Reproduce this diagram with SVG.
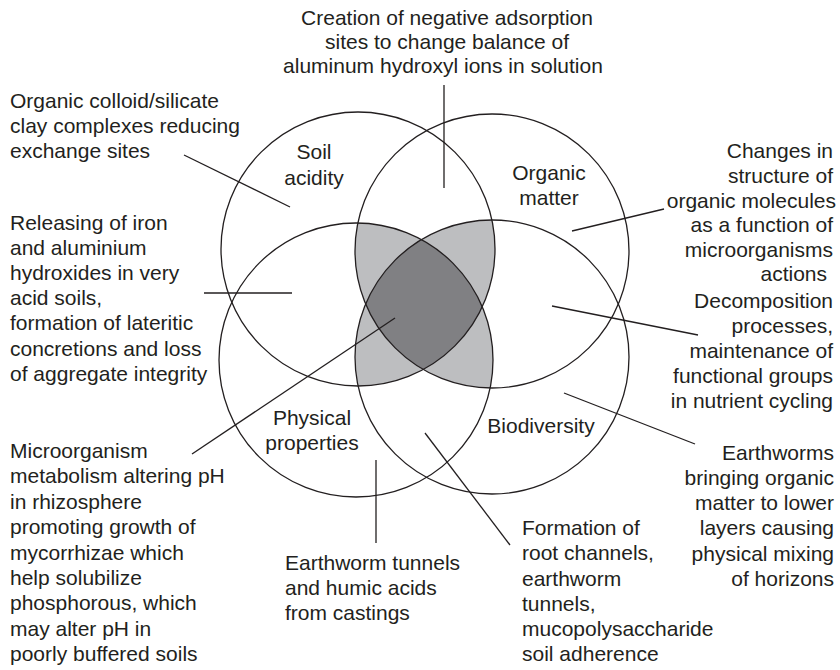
<svg xmlns="http://www.w3.org/2000/svg" xmlns:xlink="http://www.w3.org/1999/xlink" width="840" height="670" viewBox="0 0 840 670">
  <style>
    text { font-family: "Liberation Sans", Arial, Helvetica, sans-serif; font-size: 21px; fill: #231f20; }
    .mid { text-anchor: middle; }
    .end { text-anchor: end; }
    .ring { fill: none; stroke: #231f20; stroke-width: 1.3; }
    .lead { stroke: #231f20; stroke-width: 1.3; fill: none; }
    .tri { fill: #bdbec0; }
    .quad { fill: #808083; }
  </style>
  <defs>
    <circle id="cirS" cx="358" cy="249" r="137"/>
    <circle id="cirO" cx="492" cy="251" r="137"/>
    <circle id="cirP" cx="356" cy="360" r="137"/>
    <circle id="cirB" cx="492" cy="357" r="137"/>
    <clipPath id="clipS"><use xlink:href="#cirS"/></clipPath>
    <clipPath id="clipO"><use xlink:href="#cirO"/></clipPath>
    <clipPath id="clipP"><use xlink:href="#cirP"/></clipPath>
    <clipPath id="clipB"><use xlink:href="#cirB"/></clipPath>
  </defs>

  <rect width="840" height="670" fill="#ffffff"/>

  <!-- overlaps: areas inside three circles (light) and all four (dark) -->
  <g id="overlaps">
    <g clip-path="url(#clipS)"><g clip-path="url(#clipO)"><use xlink:href="#cirP" class="tri"/></g></g>
    <g clip-path="url(#clipS)"><g clip-path="url(#clipO)"><use xlink:href="#cirB" class="tri"/></g></g>
    <g clip-path="url(#clipS)"><g clip-path="url(#clipP)"><use xlink:href="#cirB" class="tri"/></g></g>
    <g clip-path="url(#clipO)"><g clip-path="url(#clipP)"><use xlink:href="#cirB" class="tri"/></g></g>
    <g clip-path="url(#clipS)"><g clip-path="url(#clipO)"><g clip-path="url(#clipP)"><use xlink:href="#cirB" class="quad"/></g></g></g>
  </g>

  <!-- the four property circles -->
  <g id="soil-acidity">
    <use xlink:href="#cirS" class="ring"/>
    <text class="mid" x="314" y="159">Soil</text>
    <text class="mid" x="314" y="185">acidity</text>
  </g>
  <g id="organic-matter">
    <use xlink:href="#cirO" class="ring"/>
    <text class="mid" x="549" y="180">Organic</text>
    <text class="mid" x="549" y="205">matter</text>
  </g>
  <g id="physical-properties">
    <use xlink:href="#cirP" class="ring"/>
    <text class="mid" x="312" y="425">Physical</text>
    <text class="mid" x="312" y="450">properties</text>
  </g>
  <g id="biodiversity">
    <use xlink:href="#cirB" class="ring"/>
    <text class="mid" x="541" y="433">Biodiversity</text>
  </g>

  <!-- leader lines -->
  <g id="connectors">
    <line class="lead" x1="444" y1="85" x2="444" y2="188"/>
    <line class="lead" x1="184" y1="155" x2="290" y2="207"/>
    <line class="lead" x1="572" y1="231" x2="664" y2="209"/>
    <line class="lead" x1="204" y1="293" x2="292" y2="293"/>
    <line class="lead" x1="395" y1="318" x2="192" y2="454"/>
    <line class="lead" x1="552" y1="306" x2="698" y2="335"/>
    <line class="lead" x1="564" y1="393" x2="695" y2="444"/>
    <line class="lead" x1="376" y1="460" x2="376" y2="543"/>
    <line class="lead" x1="425" y1="433" x2="510" y2="545"/>
  </g>

  <!-- annotations -->
  <g id="note-adsorption">
    <text class="mid" x="447" y="25">Creation of negative adsorption</text>
    <text class="mid" x="447" y="49">sites to change balance of</text>
    <text class="mid" x="443" y="73">aluminum hydroxyl ions in solution</text>
  </g>
  <g id="note-colloid">
    <text x="10" y="108">Organic colloid/silicate</text>
    <text x="10" y="133">clay complexes reducing</text>
    <text x="10" y="158">exchange sites</text>
  </g>
  <g id="note-molecules">
    <text class="end" x="833" y="158">Changes in</text>
    <text class="end" x="833" y="183">structure of</text>
    <text class="end" x="836" y="208">organic molecules</text>
    <text class="end" x="833" y="232">as a function of</text>
    <text class="end" x="833" y="257">microorganisms</text>
    <text class="end" x="827" y="281">actions</text>
  </g>
  <g id="note-hydroxides">
    <text x="10" y="230">Releasing of iron</text>
    <text x="10" y="255">and aluminium</text>
    <text x="10" y="280">hydroxides in very</text>
    <text x="10" y="305">acid soils,</text>
    <text x="10" y="330">formation of lateritic</text>
    <text x="10" y="356">concretions and loss</text>
    <text x="10" y="381">of aggregate integrity</text>
  </g>
  <g id="note-decomposition">
    <text class="end" x="833" y="308">Decomposition</text>
    <text class="end" x="833" y="333">processes,</text>
    <text class="end" x="833" y="358">maintenance of</text>
    <text class="end" x="833" y="383">functional groups</text>
    <text class="end" x="833" y="408">in nutrient cycling</text>
  </g>
  <g id="note-microorganism">
    <text x="10" y="458">Microorganism</text>
    <text x="10" y="483">metabolism altering pH</text>
    <text x="10" y="509">in rhizosphere</text>
    <text x="10" y="534">promoting growth of</text>
    <text x="10" y="560">mycorrhizae which</text>
    <text x="10" y="585">help solubilize</text>
    <text x="10" y="610">phosphorous, which</text>
    <text x="10" y="636">may alter pH in</text>
    <text x="10" y="661">poorly buffered soils</text>
  </g>
  <g id="note-earthworms">
    <text class="end" x="834" y="460">Earthworms</text>
    <text class="end" x="834" y="485">bringing organic</text>
    <text class="end" x="834" y="510">matter to lower</text>
    <text class="end" x="834" y="535">layers causing</text>
    <text class="end" x="834" y="561">physical mixing</text>
    <text class="end" x="834" y="586">of horizons</text>
  </g>
  <g id="note-tunnels">
    <text x="285" y="570">Earthworm tunnels</text>
    <text x="285" y="595">and humic acids</text>
    <text x="285" y="620">from castings</text>
  </g>
  <g id="note-channels">
    <text x="522" y="535">Formation of</text>
    <text x="522" y="560">root channels,</text>
    <text x="522" y="586">earthworm</text>
    <text x="522" y="611">tunnels,</text>
    <text x="522" y="636">mucopolysaccharide</text>
    <text x="522" y="661">soil adherence</text>
  </g>
</svg>
